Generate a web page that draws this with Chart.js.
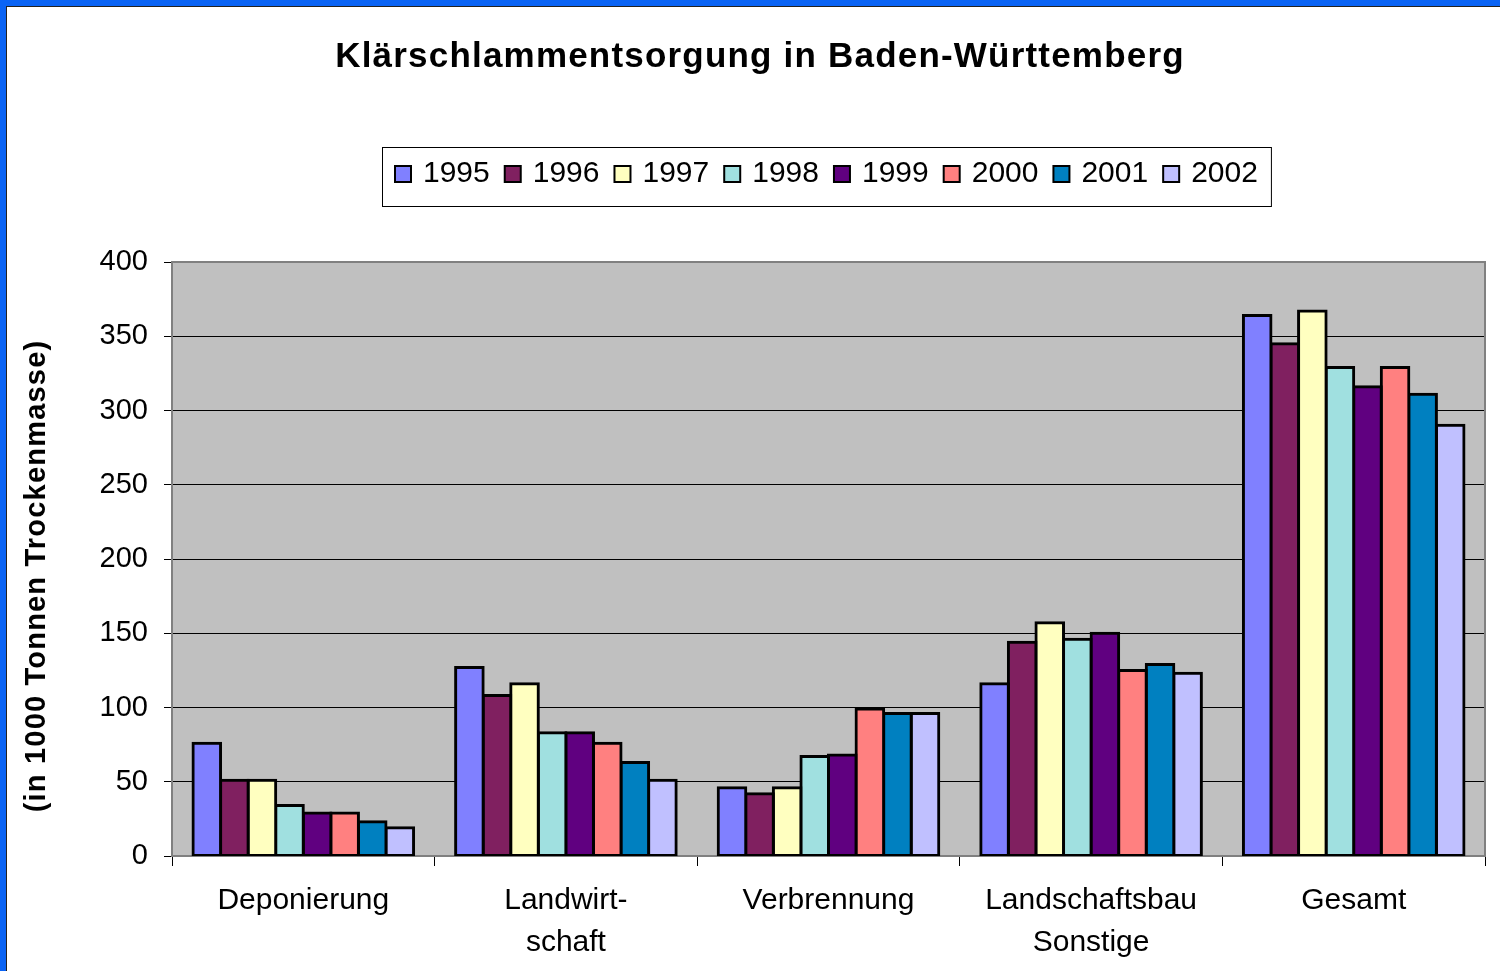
<!DOCTYPE html>
<html>
<head>
<meta charset="utf-8">
<script src="https://cdn.jsdelivr.net/npm/chart.js@4.4.1/dist/chart.umd.min.js"></script>
<style>
    html, body { margin: 0; padding: 0; background: #fff; }
    #wrap { width: 1500px; height: 971px; }
</style>
</head>
<body>
<div id="wrap"><canvas id="chart" width="1500" height="971"></canvas></div>
<script>
// Data (1000 t dry mass)
const categories = ['Deponierung', ['Landwirt-', 'schaft'], 'Verbrennung', ['Landschaftsbau', 'Sonstige'], 'Gesamt'];
const years = ['1995', '1996', '1997', '1998', '1999', '2000', '2001', '2002'];
const v1995 = [76, 127, 46, 116, 364];
const v1996 = [51, 108, 42, 144, 345];
const v1997 = [51, 116, 46, 157, 367];
const v1998 = [34, 83, 67, 146, 329];
const v1999 = [29, 83, 68, 150, 316];
const v2000 = [29, 76, 99, 125, 329];
const v2001 = [23, 63, 96, 129, 311];
const v2002 = [19, 51, 96, 123, 290];
const yTicks = [0, 50, 100, 150, 200, 250, 300, 350, 400];

const seriesValues = [v1995, v1996, v1997, v1998, v1999, v2000, v2001, v2002];
const seriesColors = ['#8080ff', '#802060', '#ffffc0', '#a0e0e0', '#600080', '#ff8080', '#0080c0', '#c0c0ff'];

const FONT = '"Liberation Sans", Arial, sans-serif';
const TITLE = 'Klärschlammentsorgung in Baden-Württemberg';
const Y_TITLE = '(in 1000 Tonnen Trockenmasse)';

// page frame, plot background, plot border, title, legend, y title
const decor = {
    id: 'decor',
    beforeDraw(chart) {
        const { ctx, chartArea: a } = chart;
        ctx.save();
        ctx.fillStyle = '#fff';
        ctx.fillRect(0, 0, chart.width, chart.height);
        ctx.fillStyle = '#0a64f5';
        ctx.fillRect(0, 0, chart.width, 6);
        ctx.fillRect(0, 0, 6, chart.height);
        ctx.fillStyle = '#222';
        ctx.fillRect(6, 6, chart.width - 6, 1);
        ctx.fillRect(6, 6, 1, chart.height - 6);
        ctx.fillStyle = '#c0c0c0';
        ctx.fillRect(a.left, a.top, a.right - a.left, a.bottom - a.top);
        ctx.restore();
    },
    beforeDatasetsDraw(chart) {
        const { ctx, chartArea: a } = chart;
        ctx.save();
        ctx.strokeStyle = '#808080';
        ctx.lineWidth = 2;
        ctx.beginPath();
        ctx.moveTo(a.left, a.top);
        ctx.lineTo(a.right, a.top);
        ctx.lineTo(a.right, a.bottom);
        ctx.stroke();
        ctx.restore();
    },
    afterDraw(chart) {
        const { ctx, chartArea: a } = chart;
        ctx.save();
        ctx.fillStyle = '#000';

        // title
        ctx.font = 'bold 35px ' + FONT;
        ctx.letterSpacing = '1.2px';
        ctx.textAlign = 'center';
        ctx.textBaseline = 'middle';
        ctx.fillText(TITLE, 760, 57);

        // y axis title
        ctx.save();
        ctx.translate(37, 576);
        ctx.rotate(-Math.PI / 2);
        ctx.font = 'bold 29px ' + FONT;
        ctx.letterSpacing = '1.2px';
        ctx.fillText(Y_TITLE, 0, 0);
        ctx.restore();
        ctx.letterSpacing = '0px';

        // legend
        ctx.font = '30px ' + FONT;
        ctx.textAlign = 'left';
        const box = 16, gap = 12, spacing = 15, padX = 13;
        const items = chart.data.datasets.map(ds => ({
            label: ds.label, color: ds.backgroundColor,
            w: box + gap + ctx.measureText(ds.label).width
        }));
        const total = items.reduce((s, it) => s + it.w, 0) + spacing * (items.length - 1) + padX * 2;
        const cx = (a.left + a.right) / 2 - 2;
        const left = Math.round(cx - total / 2);
        const top = 147, h = 59, cy = top + 27;
        ctx.strokeStyle = '#000';
        ctx.lineWidth = 1;
        ctx.strokeRect(left + 0.5, top + 0.5, total, h);
        let x = left + padX;
        items.forEach(it => {
            ctx.fillStyle = it.color;
            ctx.fillRect(x, cy - box / 2, box, box);
            ctx.lineWidth = 2;
            ctx.strokeRect(x, cy - box / 2, box, box);
            ctx.fillStyle = '#000';
            ctx.fillText(it.label, x + box + gap, cy);
            x += it.w + spacing;
        });
        ctx.restore();
    }
};

new Chart(document.getElementById('chart'), {
    type: 'bar',
    data: {
        labels: categories,
        datasets: years.map((y, i) => ({
            label: y,
            data: seriesValues[i],
            backgroundColor: seriesColors[i],
            borderColor: '#000',
            borderWidth: 3,
            borderSkipped: false,
            inflateAmount: 1.5,
            categoryPercentage: 0.84,
            barPercentage: 1
        }))
    },
    options: {
        responsive: false,
        animation: false,
        devicePixelRatio: 1,
        layout: { padding: { top: 262, right: 15, left: 0, bottom: 0 } },
        plugins: {
            legend: { display: false },
            title: { display: false },
            tooltip: { enabled: false }
        },
        scales: {
            x: {
                grid: { display: true, offset: true, drawOnChartArea: false, color: '#000', tickLength: 10 },
                border: { display: true, color: '#808080', width: 2 },
                ticks: { color: '#000', font: { family: FONT, size: 30, lineHeight: 1.4 }, padding: 14, maxRotation: 0, autoSkip: false },
                afterFit(scale) { scale.height = 115; }
            },
            y: {
                min: 0,
                max: 400,
                afterBuildTicks(scale) { scale.ticks = yTicks.map(v => ({ value: v })); },
                grid: { color: '#000', lineWidth: 1, tickLength: 8 },
                border: { display: true, color: '#808080', width: 2 },
                ticks: { color: '#000', font: { family: FONT, size: 29 }, padding: 16 },
                afterFit(scale) { scale.width = 172; }
            }
        }
    },
    plugins: [decor]
});
</script>
</body>
</html>
